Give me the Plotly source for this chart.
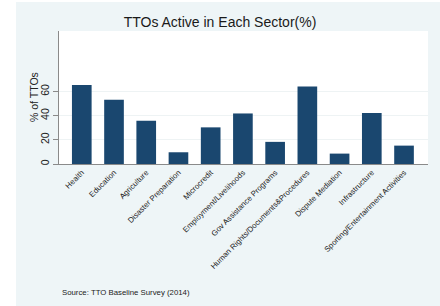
import plotly.graph_objects as go

categories = ["Health", "Education", "Agriculture", "Disaster Preparation", "Microcredit",
              "Employment/Livelihoods", "Gov Assistance Programs",
              "Human Rights/Documents&Procedures", "Dispute Mediation", "Infrastructure",
              "Sporting/Entertainment Activities"]
values = [65.4, 53.1, 35.8, 9.7, 30.3, 41.8, 18.3, 64.0, 8.6, 42.1, 15.2]
y_ticks = [0, 20, 40, 60]

W, H = 440, 306
L, R, T, B = 59, 12, 31, 142
pw, ph = W - L - R, H - T - B

def px(x):
    return (x - L) / pw

def py(y):
    return (H - B - y) / ph

font = "Liberation Sans, Arial, Helvetica, sans-serif"
light = "#eef5f7"

fig = go.Figure(go.Bar(x=list(range(len(categories))), y=values,
                       marker=dict(color="#1a476f", line=dict(width=0)), width=0.61,
                       hoverinfo="skip"))

fig.update_layout(
    width=W, height=H,
    margin=dict(l=L, r=R, t=T, b=B, pad=0, autoexpand=False),
    paper_bgcolor=light, plot_bgcolor="white",
    showlegend=False,
    font=dict(family=font, color="#222"),
    title=dict(text="TTOs Active in Each Sector(%)", x=px(243.5), xanchor="center",
               y=1 - 22.5 / H, yanchor="middle", font=dict(size=14, color="#1a1a1a")),
    xaxis=dict(range=[-0.707, 10.744], tickmode="array",
               tickvals=list(range(len(categories))), ticktext=categories,
               tickangle=-45, tickfont=dict(size=7.8, color="#222"),
               showline=True, linecolor="#8a8a8a", linewidth=1, ticks="",
               showgrid=False, zeroline=False, fixedrange=True, automargin=False),
    yaxis=dict(range=[0, 110], tickmode="array", tickvals=y_ticks,
               ticktext=[str(v) for v in y_ticks], tickangle=-90,
               tickfont=dict(size=10.5, color="#222"),
               ticks="outside", ticklen=5, tickcolor="#8a8a8a",
               showline=True, linecolor="#8a8a8a", linewidth=1,
               showgrid=True, gridcolor="#eef3f4", gridwidth=1, zeroline=False,
               automargin=False, fixedrange=True),
    shapes=[
        dict(type="rect", xref="paper", yref="paper", x0=px(0), x1=px(16), y0=py(H), y1=py(0),
             fillcolor="white", line=dict(width=0), layer="below"),
        dict(type="rect", xref="paper", yref="paper", x0=px(0), x1=px(W), y0=py(2), y1=py(0),
             fillcolor="white", line=dict(width=0), layer="below"),
    ],
    annotations=[
        dict(text="% of TTOs", xref="paper", yref="paper", x=px(33.5), y=py(97.5),
             xanchor="center", yanchor="middle", textangle=-90, showarrow=False,
             font=dict(size=10.5, color="#222")),
        dict(text="Source: TTO Baseline Survey (2014)", xref="paper", yref="paper",
             x=px(60), y=py(292), xanchor="left", yanchor="middle", showarrow=False,
             font=dict(size=7.8, color="#222")),
    ],
)

fig.write_html("out.html", config={"displayModeBar": False},
               post_script="document.body.style.margin='0';")
